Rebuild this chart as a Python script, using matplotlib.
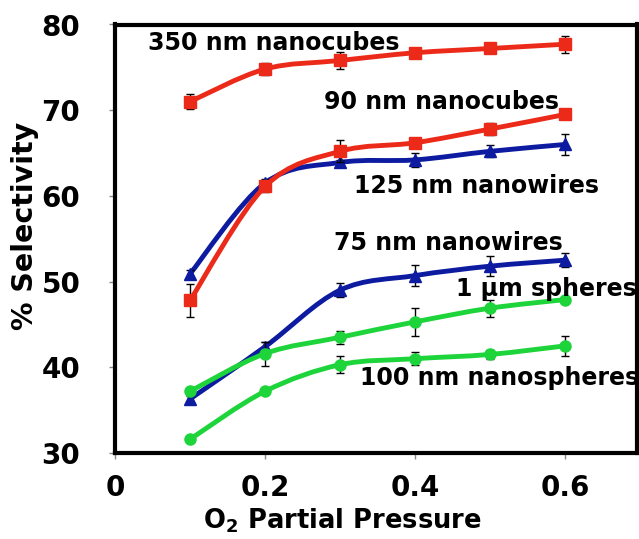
import matplotlib
matplotlib.use("Agg")
import matplotlib.pyplot as plt
from matplotlib.path import Path
from matplotlib.patches import PathPatch
import numpy as np

plt.rcParams['font.family'] = ['DejaVu Sans']
plt.rcParams['font.weight'] = 'bold'
plt.rcParams['mathtext.fontset'] = 'dejavusans'

# O2 partial pressure
pressure = [0.1, 0.2, 0.3, 0.4, 0.5, 0.6]

# % selectivity for each catalyst, with error-bar half-widths
sel_350_cubes = [71.0, 74.8, 75.8, 76.7, 77.2, 77.7]
err_350_cubes = [0.9, 0.7, 1.0, 0.4, 0.4, 1.0]
sel_90_cubes = [47.8, 61.1, 65.2, 66.2, 67.8, 69.5]
err_90_cubes = [1.9, 0.6, 1.3, 0.4, 0.7, 0.3]
sel_125_wires = [50.9, 61.5, 63.9, 64.2, 65.2, 66.0]
err_125_wires = [0.4, 0.5, 0.3, 0.8, 0.7, 1.2]
sel_75_wires = [36.3, 42.4, 49.0, 50.7, 51.8, 52.5]
err_75_wires = [0.3, 0.55, 0.8, 1.2, 1.2, 0.8]
sel_1um_spheres = [37.2, 41.6, 43.5, 45.3, 46.9, 47.9]
err_1um_spheres = [0.3, 1.4, 0.75, 1.6, 1.0, 0.2]
sel_100_spheres = [31.6, 37.2, 40.3, 41.0, 41.5, 42.5]
err_100_spheres = [0.1, 0.1, 1.0, 0.75, 0.55, 1.15]

y_ticks = [30, 40, 50, 60, 70, 80]
x_ticks = [0, 0.2, 0.4, 0.6]
x_tick_labels = ['0', '0.2', '0.4', '0.6']

RED = '#EC2A19'
BLUE = '#0C1BA0'
GREEN = '#1ED43B'

series = [
    (sel_125_wires, err_125_wires, BLUE, '^', 9, '125 nm nanowires', (0.318, 61.2)),
    (sel_75_wires, err_75_wires, BLUE, '^', 9, '75 nm nanowires', (0.292, 54.5)),
    (sel_350_cubes, err_350_cubes, RED, 's', 8, '350 nm nanocubes', (0.044, 77.8)),
    (sel_90_cubes, err_90_cubes, RED, 's', 8, '90 nm nanocubes', (0.279, 71.0)),
    (sel_1um_spheres, err_1um_spheres, GREEN, 'o', 8, '1 µm spheres', (0.455, 49.1)),
    (sel_100_spheres, err_100_spheres, GREEN, 'o', 8, '100 nm nanospheres', (0.327, 38.7)),
]


def smooth_path(xs, ys):
    """Cubic Bezier path through the points (Catmull-Rom style smoothing)."""
    pts = np.column_stack([xs, ys]).astype(float)
    n = len(pts)
    verts = [pts[0]]
    codes = [Path.MOVETO]
    for i in range(n - 1):
        p0 = pts[i - 1] if i > 0 else pts[i]
        p1 = pts[i]
        p2 = pts[i + 1]
        p3 = pts[i + 2] if i + 2 < n else pts[i + 1]
        c1 = p1 + (p2 - p0) / 6.0
        c2 = p2 - (p3 - p1) / 6.0
        verts += [c1, c2, p2]
        codes += [Path.CURVE4] * 3
    return Path(verts, codes)


fig = plt.figure(figsize=(6.39, 5.39), dpi=100)
ax = fig.add_axes([115 / 639, 1 - 453 / 539, 522 / 639, (453 - 24.5) / 539])

for k, (vals, errs, color, marker, ms, label, (tx, ty)) in enumerate(series):
    z = 2 + k * 0.1
    ax.add_patch(PathPatch(smooth_path(pressure, vals), facecolor='none',
                           edgecolor=color, lw=3.5, zorder=z, capstyle='round'))
    ax.errorbar(pressure, vals, yerr=errs, fmt='none', ecolor='black',
                elinewidth=1.0, capsize=3, capthick=1.0, zorder=z + 0.02)
    ax.plot(pressure, vals, linestyle='none', marker=marker, markersize=ms,
            color=color, markeredgecolor=color, zorder=z + 0.05)
    ax.text(tx, ty, label, fontsize=17, fontweight='bold', ha='left',
            va='center', color='black', zorder=10)

ax.set_xlim(0, 0.696)
ax.set_ylim(30, 80)
ax.set_xticks(x_ticks)
ax.set_xticklabels(x_tick_labels)
ax.set_yticks(y_ticks)

for side in ['left', 'bottom', 'top', 'right']:
    ax.spines[side].set_linewidth(3.0)
    ax.spines[side].set_color('black')

ax.tick_params(axis='both', direction='out', length=4, width=1,
               color='#888888', labelsize=20)
ax.tick_params(axis='y', pad=21)
ax.tick_params(axis='x', pad=11)
for lbl in ax.get_xticklabels() + ax.get_yticklabels():
    lbl.set_fontweight('bold')

ax.set_ylabel('% Selectivity', fontsize=20.5, fontweight='bold')
ax.set_xlabel(r'$\mathbf{O_2}$ Partial Pressure', fontsize=18.5, fontweight='bold')
ax.yaxis.set_label_coords(-0.145, 0.531)
ax.xaxis.set_label_coords(0.435, -0.125)

fig.savefig('out.png', dpi=100)
